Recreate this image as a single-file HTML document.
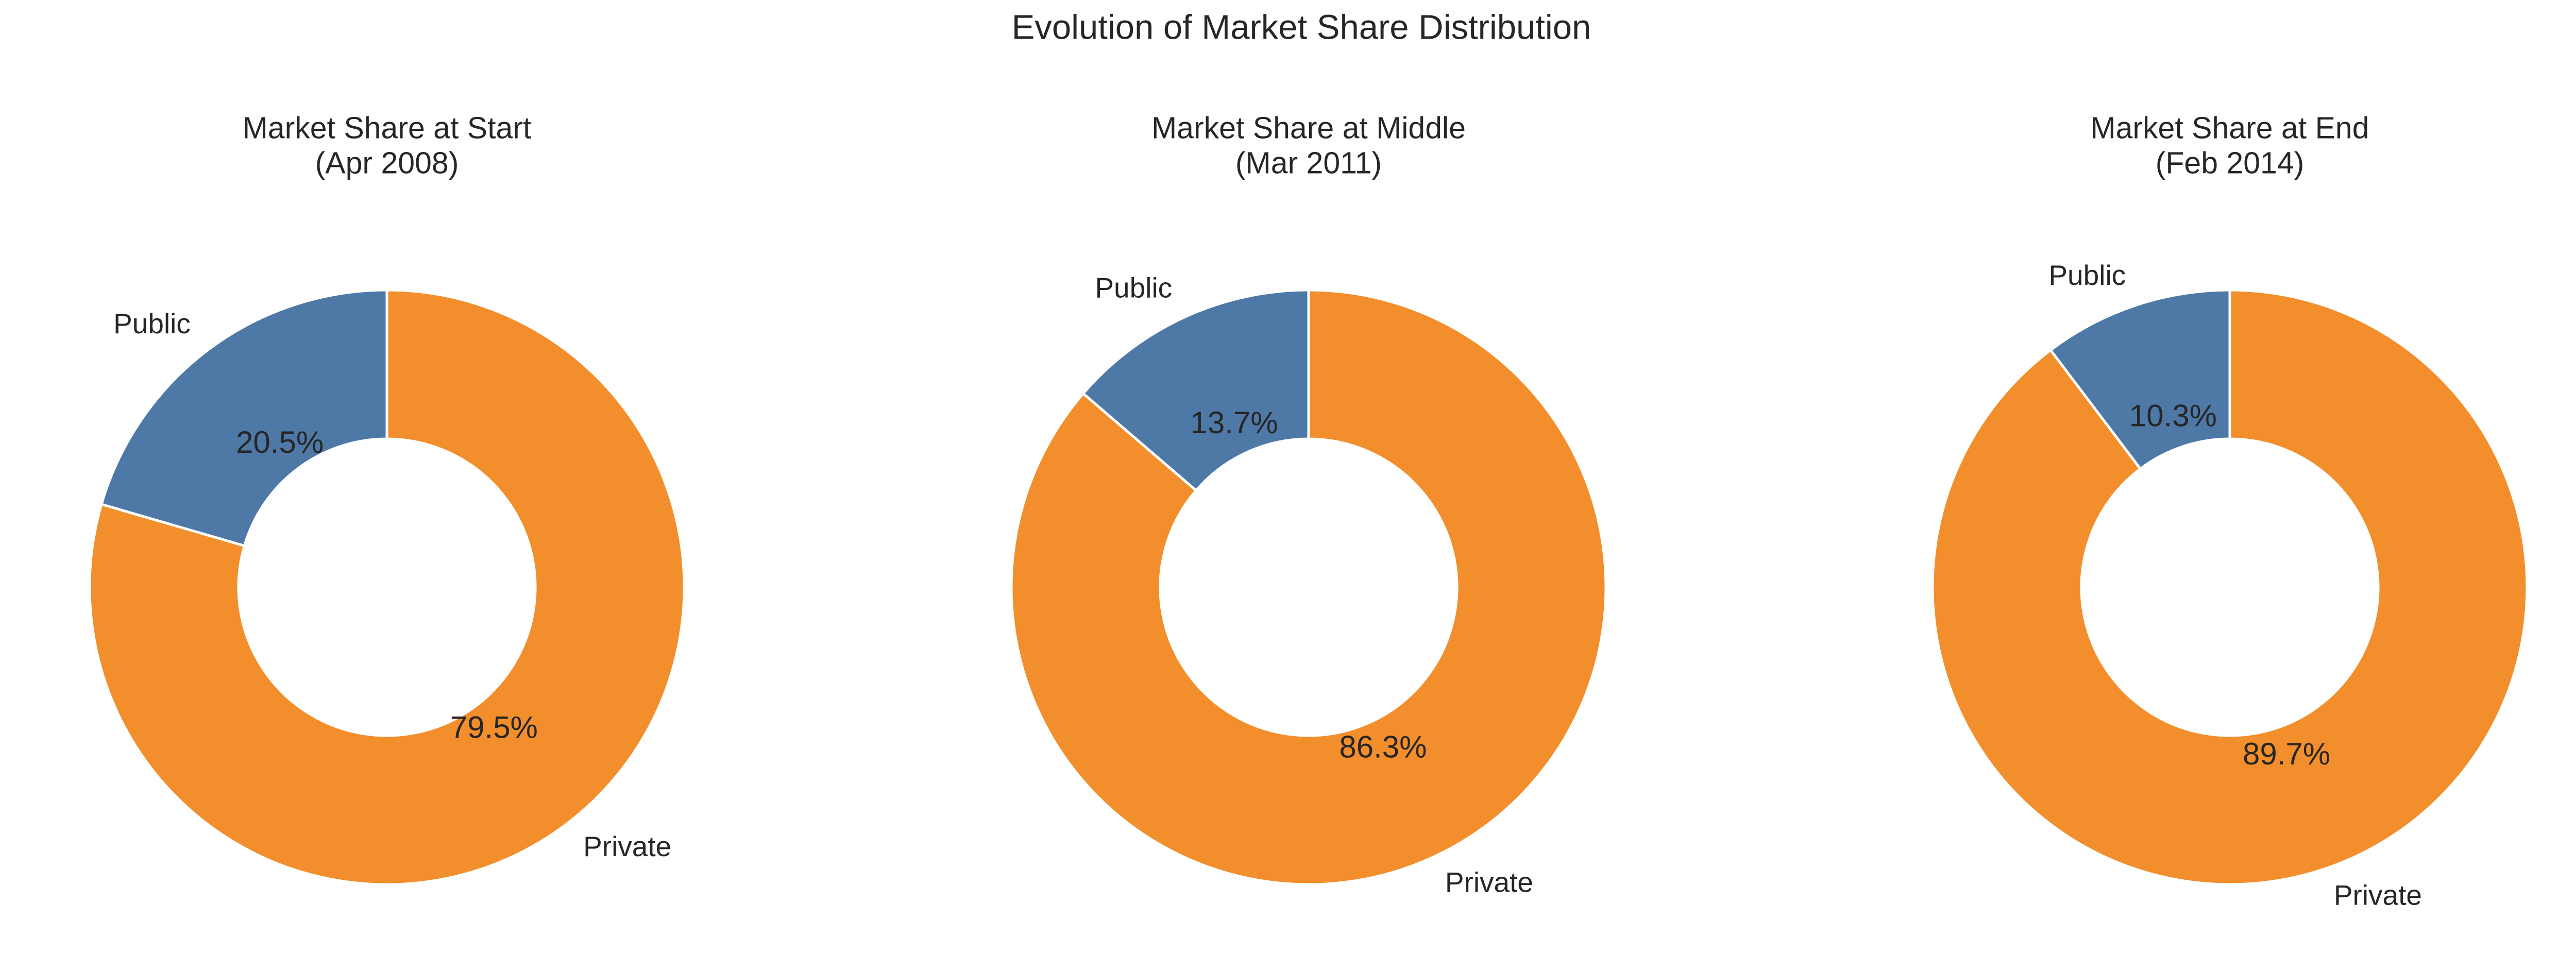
<!DOCTYPE html>
<html><head><meta charset="utf-8"><style>
html,body{margin:0;padding:0;background:#fff;}
svg{display:block;font-family:"Liberation Sans","DejaVu Sans",sans-serif;}
</style></head><body>
<svg id="chart" width="5052" height="1885" viewBox="0 0 5052 1885">
<rect width="5052" height="1885" fill="#fff"/>
<text x="2526" y="58" font-size="67" fill="#262626" text-anchor="middle" dominant-baseline="middle">Evolution of Market Share Distribution</text>
</svg>
<script>
const panelTitles = ["Market Share at Start", "Market Share at Middle", "Market Share at End"];
const panelDates = ["(Apr 2008)", "(Mar 2011)", "(Feb 2014)"];
const categories = ["Public", "Private"];
const publicShare = [20.5, 13.7, 10.3];
const privateShare = [79.5, 86.3, 89.7];
const colors = ["#4e79a7", "#f28e2b"];

const NS = "http://www.w3.org/2000/svg";
const svg = document.getElementById("chart");
const cxs = [751, 2540, 4328], cy = 1140, R = 577, r0 = 288;
function mk(tag, attrs, parent) {
  const e = document.createElementNS(NS, tag);
  for (const k in attrs) e.setAttribute(k, attrs[k]);
  (parent || svg).appendChild(e);
  return e;
}
function pt(cx, rad, deg) { const a = deg * Math.PI / 180; return [cx + rad * Math.cos(a), cy - rad * Math.sin(a)]; }
for (let p = 0; p < 3; p++) {
  const cx = cxs[p];
  const g = mk("g", {});
  
  
  const t1 = mk("text", {x: cx, y: 253, "font-size": 59, fill: "#262626", "text-anchor": "middle", "dominant-baseline": "middle"}, g);
  t1.textContent = panelTitles[p];
  
  
  const t2 = mk("text", {x: cx, y: 321, "font-size": 59, fill: "#262626", "text-anchor": "middle", "dominant-baseline": "middle"}, g);
  t2.textContent = panelDates[p];
  
  
  const vals = [publicShare[p], privateShare[p]];
  const total = vals[0] + vals[1];
  let start = 90;
  for (let i = 0; i < 2; i++) {
    const sweep = vals[i] / total * 360;
    const end = start + sweep;
    const large = sweep > 180 ? 1 : 0;
    const a = pt(cx, R, start), b = pt(cx, R, end), c = pt(cx, r0, end), d = pt(cx, r0, start);
    const path = mk("path", {d: `M${a[0]},${a[1]} A${R},${R} 0 ${large} 0 ${b[0]},${b[1]} L${c[0]},${c[1]} A${r0},${r0} 0 ${large} 1 ${d[0]},${d[1]} Z`, fill: colors[i], stroke: "#fff", "stroke-width": 5, "stroke-linejoin": "round"}, g);
    
    
    const mid = start + sweep / 2;
    const lp = pt(cx, R * 1.1, mid);
    const right = Math.cos(mid * Math.PI / 180) >= 0;
    const lab = mk("text", {x: lp[0], y: lp[1], "font-size": 55, fill: "#262626", "text-anchor": right ? "start" : "end", "dominant-baseline": "middle"}, g);
    lab.textContent = categories[i];
    
    
    const pp = pt(cx, R * 0.6, mid);
    const pc = mk("text", {x: pp[0], y: pp[1], "font-size": 60, fill: "#262626", "text-anchor": "middle", "dominant-baseline": "middle"}, g);
    pc.textContent = vals[i].toFixed(1) + "%";
    
    
    start = end;
  }
}
</script>
</body></html>
